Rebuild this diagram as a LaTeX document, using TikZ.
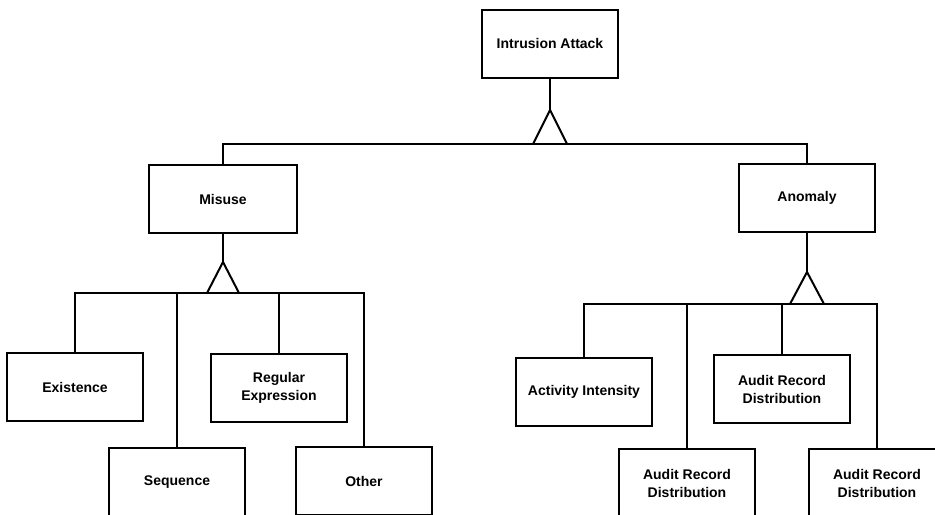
\documentclass[tikz,border=0pt]{standalone}
\usepackage{fontspec}
\setmainfont{Liberation Sans}
\tikzset{
  box/.style={draw, line width=1pt, minimum width=68pt, minimum height=34pt,
    align=center, inner sep=2pt, font=\fontsize{7}{9}\selectfont\bfseries},
  wide/.style={box, minimum width=74pt},
  link/.style={line width=1pt}
}
\begin{document}
\begin{tikzpicture}[x=0.5pt, y=-0.5pt]
    \path[use as bounding box, clip] (0,0) rectangle (935,514);
    %% boxes
    \node [box]  (attack)    at (550,43.5) {Intrusion Attack};
    \node [wide] (misuse)    at (223,199)  {Misuse};
    \node [box]  (anomaly)   at (807,197.5) {Anomaly};
    \node [box]  (existence) at (75,387)   {Existence};
    \node [box]  (regexp)    at (279,388)  {Regular\\Expression};
    \node [box]  (sequence)  at (177,482)  {Sequence};
    \node [box]  (other)     at (364,481)  {Other};
    \node [box]  (activity)  at (584,391.5) {Activity Intensity};
    \node [box]  (ardtop)    at (782,389)  {Audit Record\\Distribution};
    \node [box]  (ardleft)   at (687,483)  {Audit Record\\Distribution};
    \node [box]  (ardright)  at (877,483)  {Audit Record\\Distribution};
    %% triangle tips and buses
    \coordinate (tipA) at (550,110);
    \coordinate (busA) at (550,144);
    \coordinate (tipM) at (223,262);
    \coordinate (busM) at (223,293);
    \coordinate (tipN) at (807,272);
    \coordinate (busN) at (807,304);

    %% top level
    \draw [link] (attack.south) -- (tipA);
    \draw [link] (tipA) -- ++(-17,34) (tipA) -- ++(17,34);
    \draw [link] (misuse.north) |- (busA) -| (anomaly.north);
    %% misuse
    \draw [link] (misuse.south) -- (tipM);
    \draw [link] (tipM) -- ++(-16,31) (tipM) -- ++(16,31);
    \draw [link] (existence.north) |- (busM) -| (other.north);
    \draw [link] (sequence.north) -- (sequence.north |- busM);
    \draw [link] (regexp.north) -- (regexp.north |- busM);
    %% anomaly
    \draw [link] (anomaly.south) -- (tipN);
    \draw [link] (tipN) -- ++(-17,32) (tipN) -- ++(17,32);
    \draw [link] (activity.north) |- (busN) -| (ardright.north);
    \draw [link] (ardleft.north) -- (ardleft.north |- busN);
    \draw [link] (ardtop.north) -- (ardtop.north |- busN);
\end{tikzpicture}
\end{document}
